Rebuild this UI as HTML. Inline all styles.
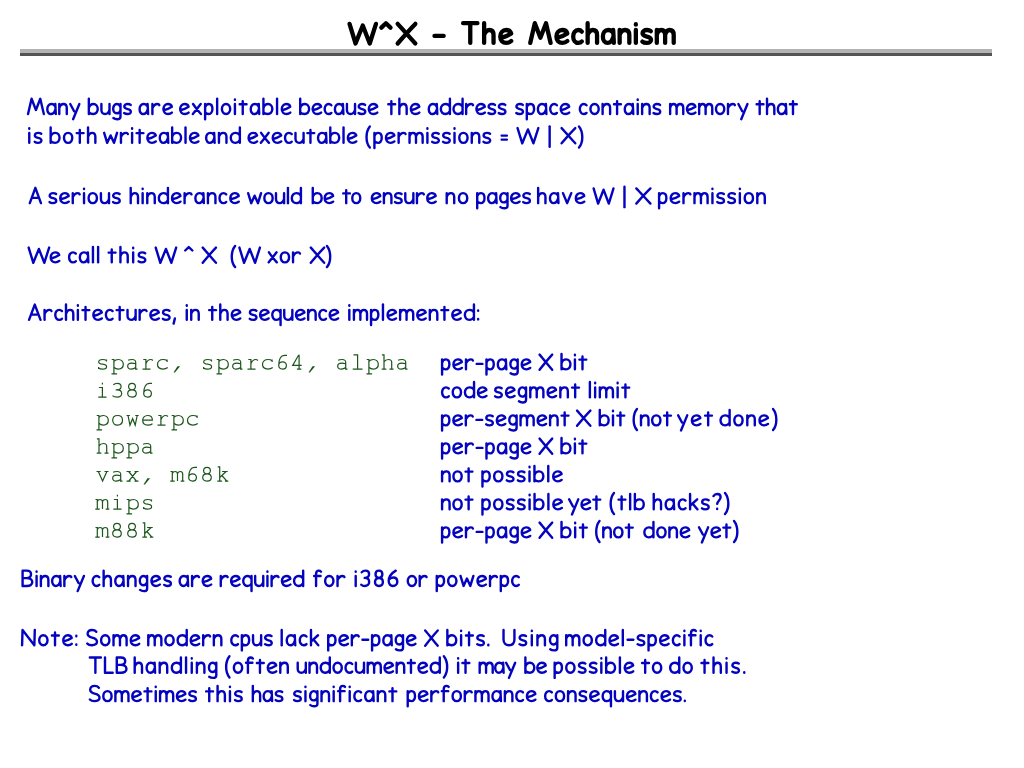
<!DOCTYPE html>
<html><head><meta charset="utf-8"><title>W^X - The Mechanism</title><style>
html,body{margin:0;padding:0;background:#fff;width:1024px;height:768px;overflow:hidden}
svg{position:absolute;left:0;top:0}
</style></head><body>
<svg width="1024" height="768" viewBox="0 0 1024 768">
<defs><path id="c111" d="M5.30 -11.15C7.80 -11.15 9.45 -9.00 9.45 -6.15C9.45 -3.30 7.80 -1.15 5.30 -1.15C2.80 -1.15 1.15 -3.30 1.15 -6.15C1.15 -9.00 2.80 -11.15 5.30 -11.15Z" vector-effect="non-scaling-stroke"/><path id="c99" d="M7.85 -9.90C7.16 -10.70 6.24 -11.15 5.14 -11.15C2.76 -11.15 1.15 -9.00 1.15 -6.15C1.15 -3.30 2.76 -1.15 5.14 -1.15C6.34 -1.15 7.25 -1.60 7.85 -2.30" vector-effect="non-scaling-stroke"/><path id="c101" d="M1.4,-5.0C4.4,-5.6 7.4,-6.9 9.6,-8.4C9.2,-10.2 7.8,-11.15 5.7,-11.15C3.0,-11.15 1.15,-9.0 1.15,-6.1C1.15,-3.1 3.0,-1.15 5.8,-1.15C7.4,-1.15 8.7,-1.7 9.65,-2.6" vector-effect="non-scaling-stroke"/><path id="c97" d="M8.64 -9.40C7.94 -10.60 6.71 -11.15 5.22 -11.15C2.77 -11.15 1.15 -8.90 1.15 -6.00C1.15 -3.20 2.68 -1.15 4.87 -1.15C6.80 -1.15 8.38 -2.80 9.17 -5.60M9.17 -11.15L9.65 -1.15" vector-effect="non-scaling-stroke"/><path id="c117" d="M1.15,-11.15V-5.2C1.15,-2.6 2.6,-1.15 4.8,-1.15C7.0,-1.15 8.6,-2.8 9.25,-5.4M9.25,-11.15V-1.15" vector-effect="non-scaling-stroke"/><path id="c110" d="M1.15 -11.15V-1.15M1.15 -7.40C1.96 -9.90 3.48 -11.15 5.28 -11.15C7.37 -11.15 8.65 -9.80 8.65 -7.20V-1.15" vector-effect="non-scaling-stroke"/><path id="c104" d="M1.15 -16.45V-1.15M1.15 -7.20C1.98 -9.80 3.44 -11.15 5.19 -11.15C7.33 -11.15 8.45 -9.80 8.45 -7.20V-1.15" vector-effect="non-scaling-stroke"/><path id="c109" d="M1.15 -11.15V-1.15M1.15 -7.60C1.81 -10.10 3.03 -11.15 4.55 -11.15C6.48 -11.15 7.60 -9.80 7.60 -7.40V-1.15M7.60 -7.60C8.31 -10.10 9.53 -11.15 11.05 -11.15C13.08 -11.15 14.25 -9.80 14.25 -7.40V-1.15" vector-effect="non-scaling-stroke"/><path id="c98" d="M1.15 -16.45V-1.15M1.15 -7.00C1.88 -9.70 3.64 -11.15 5.80 -11.15C8.34 -11.15 10.05 -9.00 10.05 -6.15C10.05 -3.20 8.24 -1.15 5.50 -1.15C3.64 -1.15 2.18 -1.80 1.15 -3.00" vector-effect="non-scaling-stroke"/><path id="c100" d="M10.25,-16.45V-1.15M10.25,-8.4C9.4,-10.2 7.8,-11.15 5.8,-11.15C3.0,-11.15 1.15,-9.0 1.15,-6.15C1.15,-3.2 3.0,-1.15 5.6,-1.15C7.6,-1.15 9.2,-2.2 10.25,-4.0" vector-effect="non-scaling-stroke"/><path id="c112" d="M1.15 -11.15V4.00M1.15 -8.00C1.90 -10.20 3.30 -11.15 4.98 -11.15C7.09 -11.15 8.45 -9.00 8.45 -6.15C8.45 -3.20 6.91 -1.15 4.80 -1.15C3.30 -1.15 2.07 -1.80 1.15 -3.00" vector-effect="non-scaling-stroke"/><path id="c113" d="M9.45,-11.15V4.0M9.45,-8.0C8.6,-10.2 7.0,-11.15 5.2,-11.15C2.8,-11.15 1.15,-9.0 1.15,-6.15C1.15,-3.2 2.8,-1.15 5.2,-1.15C7.0,-1.15 8.5,-2.0 9.45,-3.6" vector-effect="non-scaling-stroke"/><path id="c103" d="M8.45 -11.15V1.60C8.45 3.50 7.09 4.00 5.24 4.00C3.66 4.00 2.34 3.60 1.37 2.80M8.45 -8.20C7.70 -10.20 6.30 -11.15 4.71 -11.15C2.60 -11.15 1.15 -9.00 1.15 -6.40C1.15 -3.70 2.60 -1.90 4.62 -1.90C6.30 -1.90 7.61 -2.90 8.45 -4.80" vector-effect="non-scaling-stroke"/><path id="c115" d="M7.71 -10.30C6.95 -10.90 5.92 -11.15 4.78 -11.15C2.61 -11.15 1.29 -10.10 1.29 -8.60C1.29 -7.00 2.71 -6.50 4.59 -6.10C6.67 -5.70 7.85 -4.90 7.85 -3.40C7.85 -1.90 6.48 -1.15 4.50 -1.15C3.08 -1.15 1.95 -1.50 1.15 -2.20" vector-effect="non-scaling-stroke"/><path id="c114" d="M1.15 -11.15V-1.15M1.15 -6.80C2.23 -9.70 4.19 -11.15 6.25 -11.15C7.08 -11.15 7.80 -10.90 8.06 -10.00" vector-effect="non-scaling-stroke"/><path id="c105" d="M1.2,-11.15V-1.15M1.2,-15.7V-15.3" vector-effect="non-scaling-stroke"/><path id="c108" d="M1.2,-16.45V-1.15" vector-effect="non-scaling-stroke"/><path id="c116" d="M4.24 -14.00V-1.15M1.15 -10.90H8.05" vector-effect="non-scaling-stroke"/><path id="c120" d="M1.38 -11.15C3.80 -7.60 6.22 -4.40 9.25 -1.15M9.02 -11.15C6.41 -7.80 3.99 -4.60 1.15 -1.15" vector-effect="non-scaling-stroke"/><path id="c121" d="M1.15,-11.15L5.0,-4.0M10.25,-11.15L4.0,4.0" vector-effect="non-scaling-stroke"/><path id="c118" d="M1.15,-11.15L5.3,-1.15L9.45,-11.15" vector-effect="non-scaling-stroke"/><path id="c119" d="M1.15,-11.15L4.2,-1.15L7.6,-8.6L11.0,-1.15L14.05,-11.15" vector-effect="non-scaling-stroke"/><path id="c107" d="M1.15,-16.45V-1.15M8.2,-11.15L1.4,-5.0M3.6,-6.9L8.45,-1.15" vector-effect="non-scaling-stroke"/><path id="c102" d="M7.85,-15.4C7.2,-16.1 6.4,-16.45 5.6,-16.45C3.8,-16.45 2.9,-15.2 2.9,-13.0V-1.15M1.0,-11.15H7.4" vector-effect="non-scaling-stroke"/><path id="c77" d="M1.15 -1.15L4.71 -16.45L9.05 -5.20L13.39 -16.45L16.95 -1.15" vector-effect="non-scaling-stroke"/><path id="c65" d="M1.15,-1.15L6.9,-16.45L12.65,-1.15M3.3,-6.4H10.5" vector-effect="non-scaling-stroke"/><path id="c87" d="M1.15,-15.9L5.8,-0.7L11.4,-14.6L16.8,-0.7L21.65,-15.9" vector-effect="non-scaling-stroke"/><path id="c88" d="M1.15,-15.9C5.7,-11.0 10.0,-6.0 14.85,-0.7M14.85,-15.9C10.2,-11.2 5.8,-6.2 1.15,-0.7" vector-effect="non-scaling-stroke"/><path id="c66" d="M1.15,-16.45V-1.15M1.15,-16.45H5.2C8.0,-16.45 9.6,-15.0 9.6,-12.8C9.6,-10.5 7.8,-9.0 5.0,-9.0H1.15M5.0,-9.0C8.8,-9.0 10.85,-7.4 10.85,-5.0C10.85,-2.6 8.8,-1.15 5.4,-1.15H1.15" vector-effect="non-scaling-stroke"/><path id="c76" d="M1.15,-16.45V-1.15H8.85" vector-effect="non-scaling-stroke"/><path id="c78" d="M1.15,-1.15L1.6,-16.45L13.4,-1.15L13.85,-16.45" vector-effect="non-scaling-stroke"/><path id="c83" d="M10.2,-14.6C9.2,-15.9 7.6,-16.45 5.9,-16.45C3.2,-16.45 1.5,-15.0 1.5,-12.6C1.5,-10.2 3.6,-9.3 6.0,-8.7C8.8,-8.0 10.85,-7.0 10.85,-4.6C10.85,-2.4 8.8,-1.15 5.8,-1.15C3.8,-1.15 2.2,-1.7 1.15,-2.8" vector-effect="non-scaling-stroke"/><path id="c84" d="M1.15,-16.45H12.25M6.7,-16.45V-1.15" vector-effect="non-scaling-stroke"/><path id="c85" d="M1.15,-16.45V-6.8C1.15,-3.2 3.2,-1.15 6.6,-1.15C10.0,-1.15 12.05,-3.2 12.05,-6.8V-16.45" vector-effect="non-scaling-stroke"/><path id="c51" d="M1.60 -14.80C2.60 -15.90 4.00 -16.45 5.40 -16.45C7.60 -16.45 9.00 -15.20 9.00 -13.00C9.00 -10.60 7.20 -9.20 4.60 -9.20M4.60 -9.20C7.60 -9.20 9.05 -7.40 9.05 -5.20C9.05 -2.60 7.20 -1.15 4.60 -1.15C3.00 -1.15 1.90 -1.60 1.15 -2.40" vector-effect="non-scaling-stroke"/><path id="c56" d="M5.10 -9.15C3.01 -9.15 1.67 -10.60 1.67 -12.80C1.67 -15.00 3.01 -16.45 5.10 -16.45C7.19 -16.45 8.53 -15.00 8.53 -12.80C8.53 -10.60 7.19 -9.15 5.10 -9.15C2.72 -9.15 1.15 -7.50 1.15 -5.10C1.15 -2.70 2.72 -1.15 5.10 -1.15C7.48 -1.15 9.05 -2.70 9.05 -5.10C9.05 -7.50 7.48 -9.15 5.10 -9.15Z" vector-effect="non-scaling-stroke"/><path id="c54" d="M8.21 -16.45C4.18 -14.00 1.15 -10.40 1.15 -6.00C1.15 -3.00 2.90 -1.15 5.45 -1.15C8.00 -1.15 9.75 -2.90 9.75 -5.40C9.75 -7.90 8.00 -9.60 5.56 -9.60C3.75 -9.60 2.26 -8.80 1.42 -7.40" vector-effect="non-scaling-stroke"/><path id="c40" d="M4.45,-17.6C2.2,-14.8 1.15,-11.2 1.15,-6.8C1.15,-2.6 2.2,0.9 4.45,3.6" vector-effect="non-scaling-stroke"/><path id="c41" d="M1.15,-17.6C3.4,-14.8 4.45,-11.2 4.45,-6.8C4.45,-2.6 3.4,0.9 1.15,3.6" vector-effect="non-scaling-stroke"/><path id="c124" d="M1.2,-17.65V2.85" vector-effect="non-scaling-stroke"/><path id="c61" d="M1.15,-8.4H6.25M1.15,-4.4H6.25" vector-effect="non-scaling-stroke"/><path id="c94" d="M1.15,-13.0L4.7,-16.45L8.25,-13.0" vector-effect="non-scaling-stroke"/><path id="c58" d="M1.3,-10.6V-10.2M1.3,-2.0V-1.6" vector-effect="non-scaling-stroke"/><path id="c46" d="M1.3,-1.6V-1.2" vector-effect="non-scaling-stroke"/><path id="c44" d="M2.45,-2.6L1.15,2.6" vector-effect="non-scaling-stroke"/><path id="c45" d="M1.15,-6.6H6.85" vector-effect="non-scaling-stroke"/><path id="c63" d="M1.3,-14.4C2.2,-15.8 3.6,-16.45 5.0,-16.45C7.2,-16.45 8.45,-15.2 8.45,-13.2C8.45,-10.6 5.4,-9.6 5.0,-6.6M5.0,-1.8V-1.4" vector-effect="non-scaling-stroke"/><path id="m44" d="M7.4,-2.8L10.0,-2.8L4.8,3.3L3.4,3.3Z" fill="#1a551a" stroke="none"/><path id="m51" d="M3.2,-12.2C4.2,-13.4 5.8,-13.8 7.4,-13.8C9.6,-13.8 11.0,-12.6 11.0,-10.6C11.0,-8.4 9.4,-7.3 6.8,-7.3H5.6M6.8,-7.3C9.8,-7.3 11.6,-5.8 11.6,-3.6C11.6,-1.2 9.6,0 7.0,0C5.0,0 3.4,-0.4 2.4,-1.4"/><path id="m52" d="M11.6,-3.7H2.6L8.4,-13.8H9.0V0M6.8,0H11.2"/><path id="m54" d="M7.45,-7.3C5.1,-7.3 3.6,-5.8 3.6,-3.65C3.6,-1.4 5.1,0 7.45,0C9.8,0 11.3,-1.4 11.3,-3.65C11.3,-5.8 9.8,-7.3 7.45,-7.3C5.1,-7.3 3.6,-5.8 3.6,-3.65M3.6,-3.65C3.6,-9.6 5.8,-13.8 9.5,-13.8H11.9"/><path id="m56" d="M6.9,-7.3C4.8,-7.3 3.5,-8.4 3.5,-10.5C3.5,-12.6 4.8,-13.8 6.9,-13.8C9.0,-13.8 10.3,-12.6 10.3,-10.5C10.3,-8.4 9.0,-7.3 6.9,-7.3C4.2,-7.3 2.6,-5.9 2.6,-3.6C2.6,-1.3 4.2,0 6.9,0C9.6,0 11.2,-1.3 11.2,-3.6C11.2,-5.9 9.6,-7.3 6.9,-7.3Z"/><path id="m97" d="M3.0,-8.8C4.0,-9.4 5.5,-9.6 7.0,-9.6C9.4,-9.6 10.6,-8.6 10.6,-6.6V0H12.4M10.6,-5.3C9.3,-5.7 8.0,-5.9 6.7,-5.9C3.9,-5.9 2.6,-4.5 2.6,-2.9C2.6,-1.0 3.9,0 6.1,0C7.9,0 9.4,-0.6 10.6,-1.6"/><path id="m99" d="M12.0,-9.6V-7.2M12.0,-8.3C11.0,-9.2 9.6,-9.6 8.0,-9.6C4.6,-9.6 2.4,-7.6 2.4,-4.8C2.4,-1.9 4.6,0 7.8,0C9.8,0 11.4,-0.6 12.6,-1.6"/><path id="m101" d="M2.6,-4.9H12.3C12.3,-7.9 10.4,-9.6 7.5,-9.6C4.6,-9.6 2.6,-7.6 2.6,-4.8C2.6,-1.8 4.6,0 7.6,0C9.6,0 11.2,-0.5 12.4,-1.4"/><path id="m104" d="M1.8,-14.2H3.9V0M1.6,0H6.2M3.9,-7.2C5.0,-8.9 6.5,-9.6 8.4,-9.6C10.6,-9.6 11.6,-8.6 11.6,-6.6V0M9.4,0H13.4"/><path id="m105" d="M3.8,-9.6H7.3V0M3.2,0H11.4M7.3,-14.4V-12.6"/><path id="m107" d="M2.6,-14.2H4.6V0M2.2,0H7.0M4.6,-3.6L11.0,-9.6M7.0,-9.6H12.6M6.8,-5.6L11.8,0M9.8,0H13.2"/><path id="m108" d="M3.4,-14.2H7.5V0M2.6,0H12.4"/><path id="m109" d="M0.4,-9.6H2.2V0M0.2,0H4.6M2.2,-7.6C2.8,-9.0 3.8,-9.6 4.9,-9.6C6.4,-9.6 7.4,-8.8 7.4,-7.0V0M7.4,-7.6C8.0,-9.0 9.0,-9.6 10.1,-9.6C11.6,-9.6 12.6,-8.8 12.6,-7.0V0M10.6,0H14.2"/><path id="m111" d="M7.5,-9.6C10.5,-9.6 12.4,-7.6 12.4,-4.8C12.4,-2.0 10.5,0 7.5,0C4.5,0 2.6,-2.0 2.6,-4.8C2.6,-7.6 4.5,-9.6 7.5,-9.6Z"/><path id="m112" d="M1.6,-9.6H3.8V4.8M1.4,4.8H7.0M3.8,-7.6C4.9,-9.0 6.4,-9.6 8.3,-9.6C11.2,-9.6 13.2,-7.6 13.2,-4.8C13.2,-2.0 11.2,0 8.3,0C6.4,0 4.9,-0.6 3.8,-2.0"/><path id="m114" d="M3.2,-9.6H5.8V0M2.4,0H10.4M5.8,-5.4C6.9,-8.3 8.6,-9.6 10.6,-9.6C11.5,-9.6 12.2,-9.3 12.8,-8.6"/><path id="m115" d="M11.4,-9.6V-7.6M11.4,-8.7C10.5,-9.3 9.2,-9.6 7.5,-9.6C4.9,-9.6 3.6,-8.7 3.6,-7.2C3.6,-5.5 5.4,-5.2 7.5,-4.9C9.9,-4.6 11.5,-4.0 11.5,-2.4C11.5,-0.8 9.8,0 7.5,0C5.6,0 4.3,-0.4 3.5,-1.1M3.5,0V-2.2"/><path id="m118" d="M1.4,-9.6H5.6M9.4,-9.6H13.4M3.2,-9.6L7.5,0L11.8,-9.6"/><path id="m119" d="M1.4,-9.6H4.8M10.2,-9.6H13.6M2.9,-9.6L4.9,0L7.5,-6.4L10.1,0L12.1,-9.6"/><path id="m120" d="M1.4,-9.6H5.6M9.4,-9.6H13.4M1.4,0H5.6M9.4,0H13.4M3.6,-9.6L11.4,0M11.4,-9.6L3.6,0"/></defs>
<rect x="20" y="49" width="972" height="4" fill="#b3b3b3"/>
<rect x="20" y="53" width="972" height="3" fill="#545454"/>
<g fill="none" stroke="#000" stroke-width="4.3" stroke-linecap="round" stroke-linejoin="round">
<g class="w ev" id="t_0" transform="translate(348.06,44.40) scale(1.2900,1.2900)"><use href="#c87" xlink:href="#c87" x="0.00"/><use href="#c94" xlink:href="#c94" x="24.65"/><use href="#c88" xlink:href="#c88" x="37.30"/></g>
<g class="w od" id="t_1" transform="translate(432.62,44.40) scale(1.6100,1.2900)"><use href="#c45" xlink:href="#c45" x="0.00"/></g>
<g class="w ev" id="t_2" transform="translate(461.62,44.40) scale(1.2900,1.2900)"><use href="#c84" xlink:href="#c84" x="0.00"/><use href="#c104" xlink:href="#c104" x="16.30"/><use href="#c101" xlink:href="#c101" x="28.80"/></g>
<g class="w od" id="t_3" transform="translate(528.74,44.40) scale(1.2900,1.2900)"><use href="#c77" xlink:href="#c77" x="0.00"/><use href="#c101" xlink:href="#c101" x="20.30"/><use href="#c99" xlink:href="#c99" x="33.31"/><use href="#c104" xlink:href="#c104" x="44.51"/><use href="#c97" xlink:href="#c97" x="56.32"/><use href="#c110" xlink:href="#c110" x="69.32"/><use href="#c105" xlink:href="#c105" x="81.83"/><use href="#c115" xlink:href="#c115" x="86.93"/><use href="#c109" xlink:href="#c109" x="98.13"/></g>
</g>
<g fill="none" stroke="#0404c0" stroke-width="2.4" stroke-linecap="round" stroke-linejoin="round">
<g class="w ev" id="a1_0" transform="translate(26.88,115.20) scale(1.0000,1.0000)"><use href="#c77" xlink:href="#c77" x="0.00"/><use href="#c97" xlink:href="#c97" x="19.27"/><use href="#c110" xlink:href="#c110" x="31.25"/><use href="#c121" xlink:href="#c121" x="42.22"/></g>
<g class="w od" id="a1_1" transform="translate(87.68,115.20) scale(1.0000,1.0000)"><use href="#c98" xlink:href="#c98" x="0.00"/><use href="#c117" xlink:href="#c117" x="12.57"/><use href="#c103" xlink:href="#c103" x="24.35"/><use href="#c115" xlink:href="#c115" x="35.32"/></g>
<g class="w ev" id="a1_2" transform="translate(138.44,115.20) scale(1.0000,1.0000)"><use href="#c97" xlink:href="#c97" x="0.00"/><use href="#c114" xlink:href="#c114" x="12.81"/><use href="#c101" xlink:href="#c101" x="23.82"/></g>
<g class="w od" id="a1_3" transform="translate(179.00,115.20) scale(1.0000,1.0000)"><use href="#c101" xlink:href="#c101" x="0.00"/><use href="#c120" xlink:href="#c120" x="12.68"/><use href="#c112" xlink:href="#c112" x="24.97"/><use href="#c108" xlink:href="#c108" x="36.95"/><use href="#c111" xlink:href="#c111" x="41.74"/><use href="#c105" xlink:href="#c105" x="54.72"/><use href="#c116" xlink:href="#c116" x="59.50"/><use href="#c97" xlink:href="#c97" x="70.59"/><use href="#c98" xlink:href="#c98" x="83.27"/><use href="#c108" xlink:href="#c108" x="96.86"/><use href="#c101" xlink:href="#c101" x="101.64"/></g>
<g class="w ev" id="a1_4" transform="translate(299.06,115.20) scale(1.0000,1.0000)"><use href="#c98" xlink:href="#c98" x="0.00"/><use href="#c101" xlink:href="#c101" x="12.43"/><use href="#c99" xlink:href="#c99" x="24.46"/><use href="#c97" xlink:href="#c97" x="34.69"/><use href="#c117" xlink:href="#c117" x="46.72"/><use href="#c115" xlink:href="#c115" x="58.35"/><use href="#c101" xlink:href="#c101" x="68.58"/></g>
<g class="w od" id="a1_5" transform="translate(387.12,115.20) scale(1.0000,1.0000)"><use href="#c116" xlink:href="#c116" x="0.00"/><use href="#c104" xlink:href="#c104" x="11.09"/><use href="#c101" xlink:href="#c101" x="22.58"/></g>
<g class="w ev" id="a1_6" transform="translate(427.62,115.20) scale(1.0000,1.0000)"><use href="#c97" xlink:href="#c97" x="0.00"/><use href="#c100" xlink:href="#c100" x="12.06"/><use href="#c100" xlink:href="#c100" x="24.71"/><use href="#c114" xlink:href="#c114" x="37.37"/><use href="#c101" xlink:href="#c101" x="47.63"/><use href="#c115" xlink:href="#c115" x="59.68"/><use href="#c115" xlink:href="#c115" x="69.94"/></g>
<g class="w od" id="a1_7" transform="translate(515.12,115.20) scale(1.0000,1.0000)"><use href="#c115" xlink:href="#c115" x="0.00"/><use href="#c112" xlink:href="#c112" x="10.52"/><use href="#c97" xlink:href="#c97" x="21.63"/><use href="#c99" xlink:href="#c99" x="33.95"/><use href="#c101" xlink:href="#c101" x="44.46"/></g>
<g class="w ev" id="a1_8" transform="translate(578.68,115.20) scale(1.0000,1.0000)"><use href="#c99" xlink:href="#c99" x="0.00"/><use href="#c111" xlink:href="#c111" x="10.59"/><use href="#c110" xlink:href="#c110" x="22.77"/><use href="#c116" xlink:href="#c116" x="34.16"/><use href="#c97" xlink:href="#c97" x="44.94"/><use href="#c105" xlink:href="#c105" x="57.83"/><use href="#c110" xlink:href="#c110" x="62.31"/><use href="#c115" xlink:href="#c115" x="73.70"/></g>
<g class="w od" id="a1_9" transform="translate(669.00,115.20) scale(1.0000,1.0000)"><use href="#c109" xlink:href="#c109" x="0.00"/><use href="#c101" xlink:href="#c101" x="16.80"/><use href="#c109" xlink:href="#c109" x="29.01"/><use href="#c111" xlink:href="#c111" x="45.81"/><use href="#c114" xlink:href="#c114" x="57.82"/><use href="#c121" xlink:href="#c121" x="68.22"/></g>
<g class="w ev" id="a1_10" transform="translate(755.44,115.20) scale(1.0000,1.0000)"><use href="#c116" xlink:href="#c116" x="0.00"/><use href="#c104" xlink:href="#c104" x="10.43"/><use href="#c97" xlink:href="#c97" x="21.27"/><use href="#c116" xlink:href="#c116" x="33.30"/></g>
<g class="w ev" id="a2_0" transform="translate(28.06,144.00) scale(1.0000,1.0000)"><use href="#c105" xlink:href="#c105" x="0.00"/><use href="#c115" xlink:href="#c115" x="5.50"/></g>
<g class="w od" id="a2_1" transform="translate(49.50,144.00) scale(1.0000,1.0000)"><use href="#c98" xlink:href="#c98" x="0.00"/><use href="#c111" xlink:href="#c111" x="13.33"/><use href="#c116" xlink:href="#c116" x="26.07"/><use href="#c104" xlink:href="#c104" x="37.40"/></g>
<g class="w ev" id="a2_2" transform="translate(103.00,144.00) scale(1.0000,1.0000)"><use href="#c119" xlink:href="#c119" x="0.00"/><use href="#c114" xlink:href="#c114" x="16.80"/><use href="#c105" xlink:href="#c105" x="27.91"/><use href="#c116" xlink:href="#c116" x="32.41"/><use href="#c101" xlink:href="#c101" x="43.21"/><use href="#c97" xlink:href="#c97" x="55.61"/><use href="#c98" xlink:href="#c98" x="68.02"/><use href="#c108" xlink:href="#c108" x="81.32"/><use href="#c101" xlink:href="#c101" x="85.82"/></g>
<g class="w od" id="a2_3" transform="translate(205.00,144.00) scale(1.0000,1.0000)"><use href="#c97" xlink:href="#c97" x="0.00"/><use href="#c110" xlink:href="#c110" x="12.80"/><use href="#c100" xlink:href="#c100" x="24.60"/></g>
<g class="w ev" id="a2_4" transform="translate(247.44,144.00) scale(1.0000,1.0000)"><use href="#c101" xlink:href="#c101" x="0.00"/><use href="#c120" xlink:href="#c120" x="12.27"/><use href="#c101" xlink:href="#c101" x="24.15"/><use href="#c99" xlink:href="#c99" x="36.42"/><use href="#c117" xlink:href="#c117" x="46.89"/><use href="#c116" xlink:href="#c116" x="58.77"/><use href="#c97" xlink:href="#c97" x="69.44"/><use href="#c98" xlink:href="#c98" x="81.71"/><use href="#c108" xlink:href="#c108" x="94.89"/><use href="#c101" xlink:href="#c101" x="99.26"/></g>
<g class="w od" id="a2_5" transform="translate(365.38,144.00) scale(1.0000,1.0000)"><use href="#c40" xlink:href="#c40" x="0.00"/><use href="#c112" xlink:href="#c112" x="7.90"/><use href="#c101" xlink:href="#c101" x="19.41"/><use href="#c114" xlink:href="#c114" x="32.11"/><use href="#c109" xlink:href="#c109" x="43.01"/><use href="#c105" xlink:href="#c105" x="60.82"/><use href="#c115" xlink:href="#c115" x="65.62"/><use href="#c115" xlink:href="#c115" x="76.53"/><use href="#c105" xlink:href="#c105" x="87.93"/><use href="#c111" xlink:href="#c111" x="92.73"/><use href="#c110" xlink:href="#c110" x="105.24"/><use href="#c115" xlink:href="#c115" x="116.94"/></g>
<g class="w ev" id="a2_6" transform="translate(500.44,144.00) scale(1.0297,1.0000)"><use href="#c61" xlink:href="#c61" x="0.00"/></g>
<g class="w od" id="a2_7" transform="translate(516.38,144.00) scale(1.0140,1.0000)"><use href="#c87" xlink:href="#c87" x="0.00"/></g>
<g class="w ev" id="a2_8" transform="translate(547.97,144.00) scale(1.4000,1.0000)"><use href="#c124" xlink:href="#c124" x="0.00"/></g>
<g class="w od" id="a2_9" transform="translate(560.44,144.00) scale(1.0000,1.0000)"><use href="#c88" xlink:href="#c88" x="0.00"/><use href="#c41" xlink:href="#c41" x="17.40"/></g>
<g class="w ev" id="a3_0" transform="translate(28.68,204.30) scale(0.9696,1.0000)"><use href="#c65" xlink:href="#c65" x="0.00"/></g>
<g class="w od" id="a3_1" transform="translate(48.38,204.30) scale(1.0000,1.0000)"><use href="#c115" xlink:href="#c115" x="0.00"/><use href="#c101" xlink:href="#c101" x="10.72"/><use href="#c114" xlink:href="#c114" x="23.23"/><use href="#c105" xlink:href="#c105" x="34.45"/><use href="#c111" xlink:href="#c111" x="39.07"/><use href="#c117" xlink:href="#c117" x="51.38"/><use href="#c115" xlink:href="#c115" x="63.50"/></g>
<g class="w ev" id="a3_2" transform="translate(129.56,204.30) scale(1.0000,1.0000)"><use href="#c104" xlink:href="#c104" x="0.00"/><use href="#c105" xlink:href="#c105" x="11.88"/><use href="#c110" xlink:href="#c110" x="16.55"/><use href="#c100" xlink:href="#c100" x="28.13"/><use href="#c101" xlink:href="#c101" x="41.30"/><use href="#c114" xlink:href="#c114" x="53.88"/><use href="#c97" xlink:href="#c97" x="64.65"/><use href="#c110" xlink:href="#c110" x="77.23"/><use href="#c99" xlink:href="#c99" x="88.80"/><use href="#c101" xlink:href="#c101" x="99.58"/></g>
<g class="w od" id="a3_3" transform="translate(247.00,204.30) scale(1.0000,1.0000)"><use href="#c119" xlink:href="#c119" x="0.00"/><use href="#c111" xlink:href="#c111" x="16.21"/><use href="#c117" xlink:href="#c117" x="27.83"/><use href="#c108" xlink:href="#c108" x="39.74"/><use href="#c100" xlink:href="#c100" x="43.66"/></g>
<g class="w ev" id="a3_4" transform="translate(311.62,204.30) scale(1.0000,1.0000)"><use href="#c98" xlink:href="#c98" x="0.00"/><use href="#c101" xlink:href="#c101" x="11.90"/></g>
<g class="w od" id="a3_5" transform="translate(342.12,204.30) scale(0.9630,1.0000)"><use href="#c116" xlink:href="#c116" x="0.00"/><use href="#c111" xlink:href="#c111" x="9.40"/></g>
<g class="w ev" id="a3_6" transform="translate(370.68,204.30) scale(1.0000,1.0000)"><use href="#c101" xlink:href="#c101" x="0.00"/><use href="#c110" xlink:href="#c110" x="12.08"/><use href="#c115" xlink:href="#c115" x="23.16"/><use href="#c117" xlink:href="#c117" x="33.44"/><use href="#c114" xlink:href="#c114" x="45.12"/><use href="#c101" xlink:href="#c101" x="55.40"/></g>
<g class="w od" id="a3_7" transform="translate(445.56,204.30) scale(1.0000,1.0000)"><use href="#c110" xlink:href="#c110" x="0.00"/><use href="#c111" xlink:href="#c111" x="12.22"/></g>
<g class="w ev" id="a3_8" transform="translate(476.06,204.30) scale(1.0000,1.0000)"><use href="#c112" xlink:href="#c112" x="0.00"/><use href="#c97" xlink:href="#c97" x="10.90"/><use href="#c103" xlink:href="#c103" x="23.00"/><use href="#c101" xlink:href="#c101" x="33.90"/><use href="#c115" xlink:href="#c115" x="46.00"/></g>
<g class="w od" id="a3_9" transform="translate(537.00,204.30) scale(1.0000,1.0000)"><use href="#c104" xlink:href="#c104" x="0.00"/><use href="#c97" xlink:href="#c97" x="11.81"/><use href="#c118" xlink:href="#c118" x="24.83"/><use href="#c101" xlink:href="#c101" x="37.64"/></g>
<g class="w ev" id="a3_10" transform="translate(592.50,204.30) scale(0.9702,1.0000)"><use href="#c87" xlink:href="#c87" x="0.00"/></g>
<g class="w od" id="a3_11" transform="translate(622.79,204.30) scale(1.4000,1.0000)"><use href="#c124" xlink:href="#c124" x="0.00"/></g>
<g class="w ev" id="a3_12" transform="translate(635.12,204.30) scale(1.0312,1.0000)"><use href="#c88" xlink:href="#c88" x="0.00"/></g>
<g class="w od" id="a3_13" transform="translate(657.94,204.30) scale(1.0000,1.0000)"><use href="#c112" xlink:href="#c112" x="0.00"/><use href="#c101" xlink:href="#c101" x="11.60"/><use href="#c114" xlink:href="#c114" x="24.40"/><use href="#c109" xlink:href="#c109" x="35.40"/><use href="#c105" xlink:href="#c105" x="53.30"/><use href="#c115" xlink:href="#c115" x="58.20"/><use href="#c115" xlink:href="#c115" x="69.20"/><use href="#c105" xlink:href="#c105" x="80.70"/><use href="#c111" xlink:href="#c111" x="85.60"/><use href="#c110" xlink:href="#c110" x="98.20"/></g>
<g class="w ev" id="a4_0" transform="translate(27.50,263.50) scale(1.0000,1.0000)"><use href="#c87" xlink:href="#c87" x="0.00"/><use href="#c101" xlink:href="#c101" x="22.08"/></g>
<g class="w od" id="a4_1" transform="translate(67.94,263.50) scale(1.0000,1.0000)"><use href="#c99" xlink:href="#c99" x="0.00"/><use href="#c97" xlink:href="#c97" x="10.76"/><use href="#c108" xlink:href="#c108" x="23.82"/><use href="#c108" xlink:href="#c108" x="28.98"/></g>
<g class="w ev" id="a4_2" transform="translate(107.50,263.50) scale(1.0000,1.0000)"><use href="#c116" xlink:href="#c116" x="0.00"/><use href="#c104" xlink:href="#c104" x="11.78"/><use href="#c105" xlink:href="#c105" x="24.46"/><use href="#c115" xlink:href="#c115" x="29.94"/></g>
<g class="w od" id="a4_3" transform="translate(154.56,263.50) scale(0.9982,1.0000)"><use href="#c87" xlink:href="#c87" x="0.00"/></g>
<g class="w ev" id="a4_4" transform="translate(184.00,263.50) scale(1.0170,1.0000)"><use href="#c94" xlink:href="#c94" x="0.00"/></g>
<g class="w od" id="a4_5" transform="translate(201.62,263.50) scale(0.9650,1.0000)"><use href="#c88" xlink:href="#c88" x="0.00"/></g>
<g class="w ev" id="a4_6" transform="translate(230.62,263.50) scale(1.0000,1.0000)"><use href="#c40" xlink:href="#c40" x="0.00"/><use href="#c87" xlink:href="#c87" x="7.64"/></g>
<g class="w od" id="a4_7" transform="translate(267.56,263.50) scale(1.0000,1.0000)"><use href="#c120" xlink:href="#c120" x="0.00"/><use href="#c111" xlink:href="#c111" x="12.06"/><use href="#c114" xlink:href="#c114" x="24.32"/></g>
<g class="w ev" id="a4_8" transform="translate(309.68,263.50) scale(0.9748,1.0000)"><use href="#c88" xlink:href="#c88" x="0.00"/><use href="#c41" xlink:href="#c41" x="16.60"/></g>
<g class="w ev" id="a5_0" transform="translate(27.88,321.00) scale(1.0000,1.0000)"><use href="#c65" xlink:href="#c65" x="0.00"/><use href="#c114" xlink:href="#c114" x="15.52"/><use href="#c99" xlink:href="#c99" x="26.24"/><use href="#c104" xlink:href="#c104" x="36.96"/><use href="#c105" xlink:href="#c105" x="48.79"/><use href="#c116" xlink:href="#c116" x="53.41"/><use href="#c101" xlink:href="#c101" x="64.33"/><use href="#c99" xlink:href="#c99" x="76.85"/><use href="#c116" xlink:href="#c116" x="87.57"/><use href="#c117" xlink:href="#c117" x="98.49"/><use href="#c114" xlink:href="#c114" x="110.62"/><use href="#c101" xlink:href="#c101" x="121.34"/><use href="#c115" xlink:href="#c115" x="133.86"/><use href="#c44" xlink:href="#c44" x="144.58"/></g>
<g class="w od" id="a5_1" transform="translate(185.56,321.00) scale(1.0000,1.0000)"><use href="#c105" xlink:href="#c105" x="0.00"/><use href="#c110" xlink:href="#c110" x="4.52"/></g>
<g class="w ev" id="a5_2" transform="translate(208.00,321.00) scale(1.0000,1.0000)"><use href="#c116" xlink:href="#c116" x="0.00"/><use href="#c104" xlink:href="#c104" x="11.12"/><use href="#c101" xlink:href="#c101" x="22.64"/></g>
<g class="w od" id="a5_3" transform="translate(248.62,321.00) scale(1.0000,1.0000)"><use href="#c115" xlink:href="#c115" x="0.00"/><use href="#c101" xlink:href="#c101" x="10.36"/><use href="#c113" xlink:href="#c113" x="22.51"/><use href="#c117" xlink:href="#c117" x="34.47"/><use href="#c101" xlink:href="#c101" x="46.23"/><use href="#c110" xlink:href="#c110" x="58.39"/><use href="#c99" xlink:href="#c99" x="69.54"/><use href="#c101" xlink:href="#c101" x="79.90"/></g>
<g class="w ev" id="a5_4" transform="translate(348.12,321.00) scale(1.0000,1.0000)"><use href="#c105" xlink:href="#c105" x="0.00"/><use href="#c109" xlink:href="#c109" x="4.65"/><use href="#c112" xlink:href="#c112" x="21.79"/><use href="#c108" xlink:href="#c108" x="33.64"/><use href="#c101" xlink:href="#c101" x="38.29"/><use href="#c109" xlink:href="#c109" x="50.84"/><use href="#c101" xlink:href="#c101" x="67.98"/><use href="#c110" xlink:href="#c110" x="80.53"/><use href="#c116" xlink:href="#c116" x="92.08"/><use href="#c101" xlink:href="#c101" x="103.03"/><use href="#c100" xlink:href="#c100" x="115.57"/><use href="#c58" xlink:href="#c58" x="128.72"/></g>
<g class="w ev" id="r1_0" transform="translate(440.94,370.50) scale(1.0000,1.0000)"><use href="#c112" xlink:href="#c112" x="0.00"/><use href="#c101" xlink:href="#c101" x="11.35"/><use href="#c114" xlink:href="#c114" x="23.90"/><use href="#c45" xlink:href="#c45" x="34.65"/><use href="#c112" xlink:href="#c112" x="44.39"/><use href="#c97" xlink:href="#c97" x="55.74"/><use href="#c103" xlink:href="#c103" x="68.29"/><use href="#c101" xlink:href="#c101" x="79.64"/></g>
<g class="w od" id="r1_1" transform="translate(538.50,370.50) scale(0.9225,1.0000)"><use href="#c88" xlink:href="#c88" x="0.00"/></g>
<g class="w ev" id="r1_2" transform="translate(560.38,370.50) scale(1.0000,1.0000)"><use href="#c98" xlink:href="#c98" x="0.00"/><use href="#c105" xlink:href="#c105" x="13.33"/><use href="#c116" xlink:href="#c116" x="17.86"/></g>
<g class="w ev" id="r2_0" transform="translate(440.94,398.50) scale(1.0000,1.0000)"><use href="#c99" xlink:href="#c99" x="0.00"/><use href="#c111" xlink:href="#c111" x="10.63"/><use href="#c100" xlink:href="#c100" x="22.85"/><use href="#c101" xlink:href="#c101" x="35.88"/></g>
<g class="w od" id="r2_1" transform="translate(493.94,398.50) scale(1.0000,1.0000)"><use href="#c115" xlink:href="#c115" x="0.00"/><use href="#c101" xlink:href="#c101" x="10.93"/><use href="#c103" xlink:href="#c103" x="23.66"/><use href="#c109" xlink:href="#c109" x="35.19"/><use href="#c101" xlink:href="#c101" x="52.52"/><use href="#c110" xlink:href="#c110" x="65.25"/><use href="#c116" xlink:href="#c116" x="76.98"/></g>
<g class="w ev" id="r2_2" transform="translate(588.68,398.50) scale(1.0000,1.0000)"><use href="#c108" xlink:href="#c108" x="0.00"/><use href="#c105" xlink:href="#c105" x="5.25"/><use href="#c109" xlink:href="#c109" x="10.00"/><use href="#c105" xlink:href="#c105" x="27.75"/><use href="#c116" xlink:href="#c116" x="32.50"/></g>
<g class="w ev" id="r3_0" transform="translate(440.94,426.50) scale(1.0000,1.0000)"><use href="#c112" xlink:href="#c112" x="0.00"/><use href="#c101" xlink:href="#c101" x="11.27"/><use href="#c114" xlink:href="#c114" x="23.74"/><use href="#c45" xlink:href="#c45" x="34.40"/><use href="#c115" xlink:href="#c115" x="44.07"/><use href="#c101" xlink:href="#c101" x="54.74"/><use href="#c103" xlink:href="#c103" x="67.21"/><use href="#c109" xlink:href="#c109" x="78.48"/><use href="#c101" xlink:href="#c101" x="95.54"/><use href="#c110" xlink:href="#c110" x="108.01"/><use href="#c116" xlink:href="#c116" x="119.48"/></g>
<g class="w od" id="r3_1" transform="translate(575.94,426.50) scale(0.9725,1.0000)"><use href="#c88" xlink:href="#c88" x="0.00"/></g>
<g class="w ev" id="r3_2" transform="translate(598.62,426.50) scale(1.0000,1.0000)"><use href="#c98" xlink:href="#c98" x="0.00"/><use href="#c105" xlink:href="#c105" x="13.18"/><use href="#c116" xlink:href="#c116" x="17.56"/></g>
<g class="w od" id="r3_3" transform="translate(632.50,426.50) scale(1.0000,1.0000)"><use href="#c40" xlink:href="#c40" x="0.00"/><use href="#c110" xlink:href="#c110" x="7.34"/><use href="#c111" xlink:href="#c111" x="18.48"/><use href="#c116" xlink:href="#c116" x="30.42"/></g>
<g class="w ev" id="r3_4" transform="translate(677.00,426.50) scale(1.0000,1.0000)"><use href="#c121" xlink:href="#c121" x="0.00"/><use href="#c101" xlink:href="#c101" x="13.76"/><use href="#c116" xlink:href="#c116" x="26.92"/></g>
<g class="w od" id="r3_5" transform="translate(719.38,426.50) scale(1.0000,1.0000)"><use href="#c100" xlink:href="#c100" x="0.00"/><use href="#c111" xlink:href="#c111" x="13.78"/><use href="#c110" xlink:href="#c110" x="26.76"/><use href="#c101" xlink:href="#c101" x="38.94"/><use href="#c41" xlink:href="#c41" x="52.52"/></g>
<g class="w ev" id="r4_0" transform="translate(440.94,454.50) scale(1.0000,1.0000)"><use href="#c112" xlink:href="#c112" x="0.00"/><use href="#c101" xlink:href="#c101" x="11.35"/><use href="#c114" xlink:href="#c114" x="23.90"/><use href="#c45" xlink:href="#c45" x="34.65"/><use href="#c112" xlink:href="#c112" x="44.39"/><use href="#c97" xlink:href="#c97" x="55.74"/><use href="#c103" xlink:href="#c103" x="68.29"/><use href="#c101" xlink:href="#c101" x="79.64"/></g>
<g class="w od" id="r4_1" transform="translate(538.50,454.50) scale(0.9225,1.0000)"><use href="#c88" xlink:href="#c88" x="0.00"/></g>
<g class="w ev" id="r4_2" transform="translate(560.38,454.50) scale(1.0000,1.0000)"><use href="#c98" xlink:href="#c98" x="0.00"/><use href="#c105" xlink:href="#c105" x="13.33"/><use href="#c116" xlink:href="#c116" x="17.86"/></g>
<g class="w ev" id="r5_0" transform="translate(440.94,482.50) scale(1.0000,1.0000)"><use href="#c110" xlink:href="#c110" x="0.00"/><use href="#c111" xlink:href="#c111" x="11.32"/><use href="#c116" xlink:href="#c116" x="23.44"/></g>
<g class="w od" id="r5_1" transform="translate(481.30,482.50) scale(1.0000,1.0000)"><use href="#c112" xlink:href="#c112" x="0.00"/><use href="#c111" xlink:href="#c111" x="11.68"/><use href="#c115" xlink:href="#c115" x="24.35"/><use href="#c115" xlink:href="#c115" x="35.43"/><use href="#c105" xlink:href="#c105" x="47.01"/><use href="#c98" xlink:href="#c98" x="51.99"/><use href="#c108" xlink:href="#c108" x="65.76"/><use href="#c101" xlink:href="#c101" x="70.74"/></g>
<g class="w ev" id="r6_0" transform="translate(440.94,510.50) scale(1.0000,1.0000)"><use href="#c110" xlink:href="#c110" x="0.00"/><use href="#c111" xlink:href="#c111" x="11.32"/><use href="#c116" xlink:href="#c116" x="23.44"/></g>
<g class="w od" id="r6_1" transform="translate(481.30,510.50) scale(1.0000,1.0000)"><use href="#c112" xlink:href="#c112" x="0.00"/><use href="#c111" xlink:href="#c111" x="11.70"/><use href="#c115" xlink:href="#c115" x="24.40"/><use href="#c115" xlink:href="#c115" x="35.50"/><use href="#c105" xlink:href="#c105" x="47.10"/><use href="#c98" xlink:href="#c98" x="52.10"/><use href="#c108" xlink:href="#c108" x="65.90"/><use href="#c101" xlink:href="#c101" x="70.90"/></g>
<g class="w ev" id="r6_2" transform="translate(568.00,510.50) scale(1.0000,1.0000)"><use href="#c121" xlink:href="#c121" x="0.00"/><use href="#c101" xlink:href="#c101" x="12.39"/><use href="#c116" xlink:href="#c116" x="24.18"/></g>
<g class="w od" id="r6_3" transform="translate(609.50,510.50) scale(1.0000,1.0000)"><use href="#c40" xlink:href="#c40" x="0.00"/><use href="#c116" xlink:href="#c116" x="7.87"/><use href="#c108" xlink:href="#c108" x="19.45"/><use href="#c98" xlink:href="#c98" x="24.22"/></g>
<g class="w ev" id="r6_4" transform="translate(652.58,510.50) scale(1.0000,1.0000)"><use href="#c104" xlink:href="#c104" x="0.00"/><use href="#c97" xlink:href="#c97" x="11.92"/><use href="#c99" xlink:href="#c99" x="25.04"/><use href="#c107" xlink:href="#c107" x="36.36"/><use href="#c115" xlink:href="#c115" x="48.28"/><use href="#c63" xlink:href="#c63" x="59.60"/><use href="#c41" xlink:href="#c41" x="71.32"/></g>
<g class="w ev" id="r7_0" transform="translate(440.94,538.50) scale(1.0000,1.0000)"><use href="#c112" xlink:href="#c112" x="0.00"/><use href="#c101" xlink:href="#c101" x="11.35"/><use href="#c114" xlink:href="#c114" x="23.90"/><use href="#c45" xlink:href="#c45" x="34.65"/><use href="#c112" xlink:href="#c112" x="44.39"/><use href="#c97" xlink:href="#c97" x="55.74"/><use href="#c103" xlink:href="#c103" x="68.29"/><use href="#c101" xlink:href="#c101" x="79.64"/></g>
<g class="w od" id="r7_1" transform="translate(538.50,538.50) scale(0.9225,1.0000)"><use href="#c88" xlink:href="#c88" x="0.00"/></g>
<g class="w ev" id="r7_2" transform="translate(560.38,538.50) scale(1.0000,1.0000)"><use href="#c98" xlink:href="#c98" x="0.00"/><use href="#c105" xlink:href="#c105" x="13.58"/><use href="#c116" xlink:href="#c116" x="18.36"/></g>
<g class="w od" id="r7_3" transform="translate(595.06,538.50) scale(1.0000,1.0000)"><use href="#c40" xlink:href="#c40" x="0.00"/><use href="#c110" xlink:href="#c110" x="7.07"/><use href="#c111" xlink:href="#c111" x="17.95"/><use href="#c116" xlink:href="#c116" x="29.62"/></g>
<g class="w ev" id="r7_4" transform="translate(643.20,538.50) scale(1.0000,1.0000)"><use href="#c100" xlink:href="#c100" x="0.00"/><use href="#c111" xlink:href="#c111" x="12.93"/><use href="#c110" xlink:href="#c110" x="25.05"/><use href="#c101" xlink:href="#c101" x="36.38"/></g>
<g class="w od" id="r7_5" transform="translate(697.86,538.50) scale(1.0000,1.0000)"><use href="#c121" xlink:href="#c121" x="0.00"/><use href="#c101" xlink:href="#c101" x="12.48"/><use href="#c116" xlink:href="#c116" x="24.36"/><use href="#c41" xlink:href="#c41" x="35.04"/></g>
<g class="w ev" id="b1_0" transform="translate(21.44,587.10) scale(1.0000,1.0000)"><use href="#c66" xlink:href="#c66" x="0.00"/><use href="#c105" xlink:href="#c105" x="13.94"/><use href="#c110" xlink:href="#c110" x="18.29"/><use href="#c97" xlink:href="#c97" x="29.53"/><use href="#c114" xlink:href="#c114" x="41.78"/><use href="#c121" xlink:href="#c121" x="52.22"/></g>
<g class="w od" id="b1_1" transform="translate(91.50,587.10) scale(1.0000,1.0000)"><use href="#c99" xlink:href="#c99" x="0.00"/><use href="#c104" xlink:href="#c104" x="10.99"/><use href="#c97" xlink:href="#c97" x="22.59"/><use href="#c110" xlink:href="#c110" x="35.38"/><use href="#c103" xlink:href="#c103" x="47.17"/><use href="#c101" xlink:href="#c101" x="58.77"/><use href="#c115" xlink:href="#c115" x="71.56"/></g>
<g class="w ev" id="b1_2" transform="translate(178.50,587.10) scale(1.0000,1.0000)"><use href="#c97" xlink:href="#c97" x="0.00"/><use href="#c114" xlink:href="#c114" x="12.44"/><use href="#c101" xlink:href="#c101" x="23.08"/></g>
<g class="w od" id="b1_3" transform="translate(219.62,587.10) scale(1.0000,1.0000)"><use href="#c114" xlink:href="#c114" x="0.00"/><use href="#c101" xlink:href="#c101" x="10.33"/><use href="#c113" xlink:href="#c113" x="22.46"/><use href="#c117" xlink:href="#c117" x="34.39"/><use href="#c105" xlink:href="#c105" x="46.61"/><use href="#c114" xlink:href="#c114" x="50.84"/><use href="#c101" xlink:href="#c101" x="61.17"/><use href="#c100" xlink:href="#c100" x="73.30"/></g>
<g class="w ev" id="b1_4" transform="translate(313.18,587.10) scale(1.0000,1.0000)"><use href="#c102" xlink:href="#c102" x="0.00"/><use href="#c111" xlink:href="#c111" x="10.80"/><use href="#c114" xlink:href="#c114" x="23.20"/></g>
<g class="w od" id="b1_5" transform="translate(354.50,587.10) scale(1.0000,1.0000)"><use href="#c105" xlink:href="#c105" x="0.00"/><use href="#c51" xlink:href="#c51" x="5.61"/><use href="#c56" xlink:href="#c56" x="19.33"/><use href="#c54" xlink:href="#c54" x="33.04"/></g>
<g class="w ev" id="b1_6" transform="translate(406.62,587.10) scale(1.0000,1.0000)"><use href="#c111" xlink:href="#c111" x="0.00"/><use href="#c114" xlink:href="#c114" x="11.94"/></g>
<g class="w od" id="b1_7" transform="translate(435.62,587.10) scale(1.0000,1.0000)"><use href="#c112" xlink:href="#c112" x="0.00"/><use href="#c111" xlink:href="#c111" x="11.36"/><use href="#c119" xlink:href="#c119" x="23.73"/><use href="#c101" xlink:href="#c101" x="40.69"/><use href="#c114" xlink:href="#c114" x="53.25"/><use href="#c112" xlink:href="#c112" x="64.02"/><use href="#c99" xlink:href="#c99" x="75.38"/></g>
<g class="w ev" id="b2_0" transform="translate(20.94,646.40) scale(1.0000,1.0000)"><use href="#c78" xlink:href="#c78" x="0.00"/><use href="#c111" xlink:href="#c111" x="17.12"/><use href="#c116" xlink:href="#c116" x="29.84"/><use href="#c101" xlink:href="#c101" x="41.16"/><use href="#c58" xlink:href="#c58" x="54.08"/></g>
<g class="w od" id="b2_1" transform="translate(86.12,646.40) scale(1.0000,1.0000)"><use href="#c83" xlink:href="#c83" x="0.00"/><use href="#c111" xlink:href="#c111" x="13.82"/><use href="#c109" xlink:href="#c109" x="26.24"/><use href="#c101" xlink:href="#c101" x="43.46"/></g>
<g class="w ev" id="b2_2" transform="translate(147.12,646.40) scale(1.0000,1.0000)"><use href="#c109" xlink:href="#c109" x="0.00"/><use href="#c111" xlink:href="#c111" x="17.08"/><use href="#c100" xlink:href="#c100" x="29.35"/><use href="#c101" xlink:href="#c101" x="42.43"/><use href="#c114" xlink:href="#c114" x="54.90"/><use href="#c110" xlink:href="#c110" x="65.58"/></g>
<g class="w od" id="b2_3" transform="translate(230.12,646.40) scale(1.0000,1.0000)"><use href="#c99" xlink:href="#c99" x="0.00"/><use href="#c112" xlink:href="#c112" x="10.59"/><use href="#c117" xlink:href="#c117" x="21.77"/><use href="#c115" xlink:href="#c115" x="33.76"/></g>
<g class="w ev" id="b2_4" transform="translate(280.50,646.40) scale(1.0000,1.0000)"><use href="#c108" xlink:href="#c108" x="0.00"/><use href="#c97" xlink:href="#c97" x="5.11"/><use href="#c99" xlink:href="#c99" x="18.13"/><use href="#c107" xlink:href="#c107" x="29.34"/></g>
<g class="w od" id="b2_5" transform="translate(327.06,646.40) scale(1.0000,1.0000)"><use href="#c112" xlink:href="#c112" x="0.00"/><use href="#c101" xlink:href="#c101" x="11.22"/><use href="#c114" xlink:href="#c114" x="23.63"/><use href="#c45" xlink:href="#c45" x="34.25"/><use href="#c112" xlink:href="#c112" x="43.87"/><use href="#c97" xlink:href="#c97" x="55.09"/><use href="#c103" xlink:href="#c103" x="67.50"/><use href="#c101" xlink:href="#c101" x="78.72"/></g>
<g class="w ev" id="b2_6" transform="translate(424.12,646.40) scale(0.9175,1.0000)"><use href="#c88" xlink:href="#c88" x="0.00"/></g>
<g class="w od" id="b2_7" transform="translate(446.20,646.40) scale(1.0000,1.0000)"><use href="#c98" xlink:href="#c98" x="0.00"/><use href="#c105" xlink:href="#c105" x="13.71"/><use href="#c116" xlink:href="#c116" x="18.61"/><use href="#c115" xlink:href="#c115" x="29.82"/><use href="#c46" xlink:href="#c46" x="40.82"/></g>
<g class="w ev" id="b2_8" transform="translate(502.38,646.40) scale(1.0000,1.0000)"><use href="#c85" xlink:href="#c85" x="0.00"/><use href="#c115" xlink:href="#c115" x="15.97"/><use href="#c105" xlink:href="#c105" x="28.23"/><use href="#c110" xlink:href="#c110" x="33.90"/><use href="#c103" xlink:href="#c103" x="46.46"/></g>
<g class="w od" id="b2_9" transform="translate(565.06,646.40) scale(1.0000,1.0000)"><use href="#c109" xlink:href="#c109" x="0.00"/><use href="#c111" xlink:href="#c111" x="17.36"/><use href="#c100" xlink:href="#c100" x="29.93"/><use href="#c101" xlink:href="#c101" x="43.29"/><use href="#c108" xlink:href="#c108" x="56.55"/><use href="#c45" xlink:href="#c45" x="61.42"/><use href="#c115" xlink:href="#c115" x="71.38"/><use href="#c112" xlink:href="#c112" x="82.34"/><use href="#c101" xlink:href="#c101" x="93.90"/><use href="#c99" xlink:href="#c99" x="106.67"/><use href="#c105" xlink:href="#c105" x="118.13"/><use href="#c102" xlink:href="#c102" x="122.99"/><use href="#c105" xlink:href="#c105" x="134.46"/><use href="#c99" xlink:href="#c99" x="139.32"/></g>
<g class="w ev" id="b3_0" transform="translate(88.68,673.90) scale(1.0000,1.0000)"><use href="#c84" xlink:href="#c84" x="0.00"/><use href="#c76" xlink:href="#c76" x="15.17"/><use href="#c66" xlink:href="#c66" x="26.94"/></g>
<g class="w od" id="b3_1" transform="translate(133.56,673.90) scale(1.0000,1.0000)"><use href="#c104" xlink:href="#c104" x="0.00"/><use href="#c97" xlink:href="#c97" x="11.90"/><use href="#c110" xlink:href="#c110" x="24.99"/><use href="#c100" xlink:href="#c100" x="37.09"/><use href="#c108" xlink:href="#c108" x="51.29"/><use href="#c105" xlink:href="#c105" x="56.99"/><use href="#c110" xlink:href="#c110" x="62.18"/><use href="#c103" xlink:href="#c103" x="74.28"/></g>
<g class="w ev" id="b3_2" transform="translate(225.00,673.90) scale(1.0000,1.0000)"><use href="#c40" xlink:href="#c40" x="0.00"/><use href="#c111" xlink:href="#c111" x="7.71"/><use href="#c102" xlink:href="#c102" x="20.02"/><use href="#c116" xlink:href="#c116" x="30.72"/><use href="#c101" xlink:href="#c101" x="41.63"/><use href="#c110" xlink:href="#c110" x="54.14"/></g>
<g class="w od" id="b3_3" transform="translate(296.56,673.90) scale(1.0000,1.0000)"><use href="#c117" xlink:href="#c117" x="0.00"/><use href="#c110" xlink:href="#c110" x="11.80"/><use href="#c100" xlink:href="#c100" x="22.99"/><use href="#c111" xlink:href="#c111" x="35.79"/><use href="#c99" xlink:href="#c99" x="47.79"/><use href="#c117" xlink:href="#c117" x="58.18"/><use href="#c109" xlink:href="#c109" x="69.98"/><use href="#c101" xlink:href="#c101" x="86.78"/><use href="#c110" xlink:href="#c110" x="98.97"/><use href="#c116" xlink:href="#c116" x="110.17"/><use href="#c101" xlink:href="#c101" x="120.77"/><use href="#c100" xlink:href="#c100" x="132.96"/><use href="#c41" xlink:href="#c41" x="146.16"/></g>
<g class="w ev" id="b3_4" transform="translate(456.94,673.90) scale(1.0000,1.0000)"><use href="#c105" xlink:href="#c105" x="0.00"/><use href="#c116" xlink:href="#c116" x="4.34"/></g>
<g class="w od" id="b3_5" transform="translate(478.52,673.90) scale(0.9947,1.0000)"><use href="#c109" xlink:href="#c109" x="0.00"/><use href="#c97" xlink:href="#c97" x="15.60"/><use href="#c121" xlink:href="#c121" x="26.60"/></g>
<g class="w ev" id="b3_6" transform="translate(524.24,673.90) scale(1.0000,1.0000)"><use href="#c98" xlink:href="#c98" x="0.00"/><use href="#c101" xlink:href="#c101" x="11.90"/></g>
<g class="w od" id="b3_7" transform="translate(553.50,673.90) scale(1.0000,1.0000)"><use href="#c112" xlink:href="#c112" x="0.00"/><use href="#c111" xlink:href="#c111" x="11.58"/><use href="#c115" xlink:href="#c115" x="24.17"/><use href="#c115" xlink:href="#c115" x="35.15"/><use href="#c105" xlink:href="#c105" x="46.63"/><use href="#c98" xlink:href="#c98" x="51.51"/><use href="#c108" xlink:href="#c108" x="65.20"/><use href="#c101" xlink:href="#c101" x="70.08"/></g>
<g class="w ev" id="b3_8" transform="translate(640.94,673.90) scale(1.0000,1.0000)"><use href="#c116" xlink:href="#c116" x="0.00"/><use href="#c111" xlink:href="#c111" x="10.84"/></g>
<g class="w od" id="b3_9" transform="translate(669.00,673.90) scale(1.0000,1.0000)"><use href="#c100" xlink:href="#c100" x="0.00"/><use href="#c111" xlink:href="#c111" x="13.34"/></g>
<g class="w ev" id="b3_10" transform="translate(700.32,673.90) scale(1.0000,1.0000)"><use href="#c116" xlink:href="#c116" x="0.00"/><use href="#c104" xlink:href="#c104" x="12.06"/><use href="#c105" xlink:href="#c105" x="25.02"/><use href="#c115" xlink:href="#c115" x="30.78"/><use href="#c46" xlink:href="#c46" x="42.64"/></g>
<g class="w ev" id="b4_0" transform="translate(88.68,702.30) scale(1.0000,1.0000)"><use href="#c83" xlink:href="#c83" x="0.00"/><use href="#c111" xlink:href="#c111" x="13.47"/><use href="#c109" xlink:href="#c109" x="25.55"/><use href="#c101" xlink:href="#c101" x="42.42"/><use href="#c116" xlink:href="#c116" x="54.69"/><use href="#c105" xlink:href="#c105" x="65.86"/><use href="#c109" xlink:href="#c109" x="70.24"/><use href="#c101" xlink:href="#c101" x="87.11"/><use href="#c115" xlink:href="#c115" x="99.38"/></g>
<g class="w od" id="b4_1" transform="translate(205.00,702.30) scale(1.0000,1.0000)"><use href="#c116" xlink:href="#c116" x="0.00"/><use href="#c104" xlink:href="#c104" x="11.43"/><use href="#c105" xlink:href="#c105" x="23.75"/><use href="#c115" xlink:href="#c115" x="28.88"/></g>
<g class="w ev" id="b4_2" transform="translate(251.68,702.30) scale(1.0000,1.0000)"><use href="#c104" xlink:href="#c104" x="0.00"/><use href="#c97" xlink:href="#c97" x="10.81"/><use href="#c115" xlink:href="#c115" x="22.82"/></g>
<g class="w od" id="b4_3" transform="translate(292.94,702.30) scale(1.0000,1.0000)"><use href="#c115" xlink:href="#c115" x="0.00"/><use href="#c105" xlink:href="#c105" x="11.31"/><use href="#c103" xlink:href="#c103" x="16.02"/><use href="#c110" xlink:href="#c110" x="27.43"/><use href="#c105" xlink:href="#c105" x="39.54"/><use href="#c102" xlink:href="#c102" x="44.25"/><use href="#c105" xlink:href="#c105" x="55.56"/><use href="#c99" xlink:href="#c99" x="60.27"/><use href="#c97" xlink:href="#c97" x="71.08"/><use href="#c110" xlink:href="#c110" x="83.69"/><use href="#c116" xlink:href="#c116" x="95.30"/></g>
<g class="w ev" id="b4_4" transform="translate(406.56,702.30) scale(1.0000,1.0000)"><use href="#c112" xlink:href="#c112" x="0.00"/><use href="#c101" xlink:href="#c101" x="11.22"/><use href="#c114" xlink:href="#c114" x="23.64"/><use href="#c102" xlink:href="#c102" x="34.26"/><use href="#c111" xlink:href="#c111" x="44.88"/><use href="#c114" xlink:href="#c114" x="57.10"/><use href="#c109" xlink:href="#c109" x="67.72"/><use href="#c97" xlink:href="#c97" x="84.74"/><use href="#c110" xlink:href="#c110" x="97.16"/><use href="#c99" xlink:href="#c99" x="108.58"/><use href="#c101" xlink:href="#c101" x="119.20"/></g>
<g class="w od" id="b4_5" transform="translate(544.00,702.30) scale(1.0000,1.0000)"><use href="#c99" xlink:href="#c99" x="0.00"/><use href="#c111" xlink:href="#c111" x="10.66"/><use href="#c110" xlink:href="#c110" x="22.92"/><use href="#c115" xlink:href="#c115" x="34.38"/><use href="#c101" xlink:href="#c101" x="45.04"/><use href="#c113" xlink:href="#c113" x="57.50"/><use href="#c117" xlink:href="#c117" x="69.76"/><use href="#c101" xlink:href="#c101" x="81.82"/><use href="#c110" xlink:href="#c110" x="94.28"/><use href="#c99" xlink:href="#c99" x="105.74"/><use href="#c101" xlink:href="#c101" x="116.40"/><use href="#c115" xlink:href="#c115" x="128.86"/><use href="#c46" xlink:href="#c46" x="139.52"/></g>
</g>
<g fill="none" stroke="#1a551a" stroke-width="1.2">
<use href="#m115" xlink:href="#m115" x="95.10" y="369.10"/><use href="#m112" xlink:href="#m112" x="110.10" y="369.10"/><use href="#m97" xlink:href="#m97" x="125.10" y="369.10"/><use href="#m114" xlink:href="#m114" x="140.10" y="369.10"/><use href="#m99" xlink:href="#m99" x="155.10" y="369.10"/><use href="#m44" xlink:href="#m44" x="170.10" y="369.10"/><use href="#m115" xlink:href="#m115" x="200.10" y="369.10"/><use href="#m112" xlink:href="#m112" x="215.10" y="369.10"/><use href="#m97" xlink:href="#m97" x="230.10" y="369.10"/><use href="#m114" xlink:href="#m114" x="245.10" y="369.10"/><use href="#m99" xlink:href="#m99" x="260.10" y="369.10"/><use href="#m54" xlink:href="#m54" x="275.10" y="369.10"/><use href="#m52" xlink:href="#m52" x="290.10" y="369.10"/><use href="#m44" xlink:href="#m44" x="305.10" y="369.10"/><use href="#m97" xlink:href="#m97" x="335.10" y="369.10"/><use href="#m108" xlink:href="#m108" x="350.10" y="369.10"/><use href="#m112" xlink:href="#m112" x="365.10" y="369.10"/><use href="#m104" xlink:href="#m104" x="380.10" y="369.10"/><use href="#m97" xlink:href="#m97" x="395.10" y="369.10"/><use href="#m105" xlink:href="#m105" x="95.10" y="397.10"/><use href="#m51" xlink:href="#m51" x="110.10" y="397.10"/><use href="#m56" xlink:href="#m56" x="125.10" y="397.10"/><use href="#m54" xlink:href="#m54" x="140.10" y="397.10"/><use href="#m112" xlink:href="#m112" x="95.10" y="425.10"/><use href="#m111" xlink:href="#m111" x="110.10" y="425.10"/><use href="#m119" xlink:href="#m119" x="125.10" y="425.10"/><use href="#m101" xlink:href="#m101" x="140.10" y="425.10"/><use href="#m114" xlink:href="#m114" x="155.10" y="425.10"/><use href="#m112" xlink:href="#m112" x="170.10" y="425.10"/><use href="#m99" xlink:href="#m99" x="185.10" y="425.10"/><use href="#m104" xlink:href="#m104" x="95.10" y="453.10"/><use href="#m112" xlink:href="#m112" x="110.10" y="453.10"/><use href="#m112" xlink:href="#m112" x="125.10" y="453.10"/><use href="#m97" xlink:href="#m97" x="140.10" y="453.10"/><use href="#m118" xlink:href="#m118" x="95.10" y="481.10"/><use href="#m97" xlink:href="#m97" x="110.10" y="481.10"/><use href="#m120" xlink:href="#m120" x="125.10" y="481.10"/><use href="#m44" xlink:href="#m44" x="140.10" y="481.10"/><use href="#m109" xlink:href="#m109" x="170.10" y="481.10"/><use href="#m54" xlink:href="#m54" x="185.10" y="481.10"/><use href="#m56" xlink:href="#m56" x="200.10" y="481.10"/><use href="#m107" xlink:href="#m107" x="215.10" y="481.10"/><use href="#m109" xlink:href="#m109" x="95.10" y="509.10"/><use href="#m105" xlink:href="#m105" x="110.10" y="509.10"/><use href="#m112" xlink:href="#m112" x="125.10" y="509.10"/><use href="#m115" xlink:href="#m115" x="140.10" y="509.10"/><use href="#m109" xlink:href="#m109" x="95.10" y="537.10"/><use href="#m56" xlink:href="#m56" x="110.10" y="537.10"/><use href="#m56" xlink:href="#m56" x="125.10" y="537.10"/><use href="#m107" xlink:href="#m107" x="140.10" y="537.10"/>
</g>
</svg>
</body></html>
